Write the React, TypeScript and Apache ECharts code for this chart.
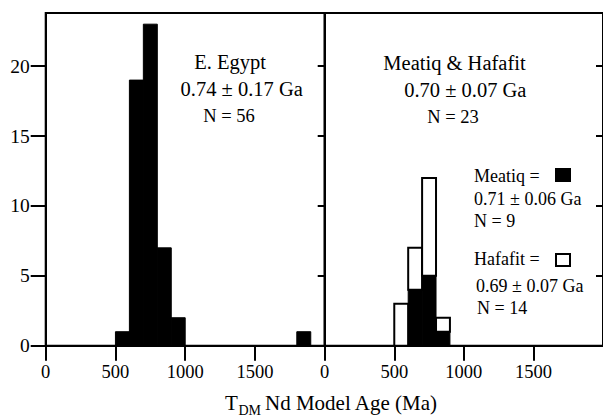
import React, { useEffect, useRef } from "react";
import * as echarts from "echarts";

// ---- data ----
const binWidth = 100;
const egyptBinStarts = [500, 600, 700, 800, 900, 1800];
const egyptCounts = [1, 19, 23, 7, 2, 1];
const meatiqBinStarts = [600, 700, 800];
const meatiqCounts = [4, 5, 1];
const hafafitBinStarts = [500, 600, 700, 800];
const hafafitCounts = [3, 3, 7, 1];
const xTickValues = [0, 500, 1000, 1500];
const yTickValues = [0, 5, 10, 15, 20];

const FONT = "Liberation Serif";

function buildBars(starts: number[], counts: number[], base?: (s: number) => number) {
  return starts.map((s, i) => {
    const b = base ? base(s) : 0;
    return [s, s + binWidth, b, b + counts[i]];
  });
}

const egyptData = buildBars(egyptBinStarts, egyptCounts);
const meatiqData = buildBars(meatiqBinStarts, meatiqCounts);
const hafafitData = buildBars(hafafitBinStarts, hafafitCounts, (s) => {
  const idx = meatiqBinStarts.indexOf(s);
  return idx >= 0 ? meatiqCounts[idx] : 0;
});

function makeRender(fill: string) {
  return (params: any, api: any) => {
    const p0 = api.coord([api.value(0), api.value(2)]);
    const p1 = api.coord([api.value(1), api.value(3)]);
    return {
      type: "rect",
      shape: { x: p0[0], y: p1[1], width: p1[0] - p0[0], height: p0[1] - p1[1] },
      style: { fill, stroke: "#000", lineWidth: fill === "#000" ? 1 : 2 },
    };
  };
}

export default function App() {
  const ref = useRef<HTMLDivElement>(null);
  useEffect(() => {
    if (!ref.current) return;
    const chart = echarts.init(ref.current, undefined, { renderer: "svg" });
    const axisLine = { show: true, lineStyle: { color: "#000", width: 2 } };
    const xAxisCommon = (gridIndex: number) => ({
      type: "value",
      gridIndex,
      min: 0,
      max: 2000,
      splitLine: { show: false },
      axisLine,
      axisTick: { show: true, length: 15, lineStyle: { color: "#000", width: 2 }, customValues: xTickValues },
      axisLabel: {
        show: true,
        color: "#000",
        fontFamily: FONT,
        fontSize: 18.5,
        margin: 17,
        customValues: xTickValues,
        formatter: (v: number) => String(v),
      },
    });
    const yCommon = {
      type: "value",
      min: 0,
      max: 23.8,
      splitLine: { show: false },
      axisLine,
    };
    const text = (t: string, x: number, y: number, size: number, align = "center") => ({
      type: "text",
      x,
      y,
      style: {
        text: t,
        fill: "#000",
        fontFamily: FONT,
        fontSize: size,
        textAlign: align,
        textVerticalAlign: "middle",
      },
    });
    chart.setOption({
      animation: false,
      grid: [
        { left: 45.7, top: 13, width: 279, height: 332.7, show: true, borderColor: "#000", borderWidth: 2, backgroundColor: "transparent" },
        { left: 324.7, top: 13, width: 279, height: 332.7, show: true, borderColor: "#000", borderWidth: 2, backgroundColor: "transparent" },
      ],
      xAxis: [xAxisCommon(0), xAxisCommon(1)],
      yAxis: [
        {
          ...yCommon,
          gridIndex: 0,
          axisTick: { show: true, length: 15, lineStyle: { color: "#000", width: 2 }, customValues: yTickValues },
          axisLabel: {
            show: true,
            color: "#000",
            fontFamily: FONT,
            fontSize: 19.5,
            margin: 16,
            customValues: yTickValues,
            formatter: (v: number) => String(v),
          },
        },
        {
          ...yCommon,
          gridIndex: 1,
          axisTick: { show: true, length: 7, lineStyle: { color: "#000", width: 2 }, customValues: yTickValues.slice(1) },
          axisLabel: { show: false },
        },
        {
          ...yCommon,
          gridIndex: 1,
          axisTick: { show: true, inside: true, length: 7, lineStyle: { color: "#000", width: 2 }, customValues: yTickValues.slice(1) },
          axisLabel: { show: false },
        },
      ],
      series: [
        {
          type: "custom",
          name: "E. Egypt",
          xAxisIndex: 0,
          yAxisIndex: 0,
          renderItem: makeRender("#000"),
          encode: { x: [0, 1], y: [2, 3] },
          data: egyptData,
        },
        {
          type: "custom",
          name: "Hafafit",
          xAxisIndex: 1,
          yAxisIndex: 1,
          renderItem: makeRender("#fff"),
          encode: { x: [0, 1], y: [2, 3] },
          data: hafafitData,
        },
        {
          type: "custom",
          name: "Meatiq",
          xAxisIndex: 1,
          yAxisIndex: 1,
          renderItem: makeRender("#000"),
          encode: { x: [0, 1], y: [2, 3] },
          data: meatiqData,
        },
      ],
      graphic: [
        text("E. Egypt", 230, 62, 20.5),
        text("0.74 ± 0.17 Ga", 241.7, 89, 20.5),
        text("N = 56", 229, 116, 18.5),
        text("Meatiq & Hafafit", 454.5, 63, 20.5),
        text("0.70 ± 0.07 Ga", 465.3, 90, 20.5),
        text("N = 23", 453, 117, 18.5),
        text("Meatiq =", 474, 176, 18, "left"),
        { type: "rect", shape: { x: 555, y: 168, width: 16, height: 14 }, style: { fill: "#000" } },
        text("0.71 ± 0.06 Ga", 474, 199, 18, "left"),
        text("N = 9", 474, 221, 18, "left"),
        text("Hafafit =", 474, 259, 18, "left"),
        { type: "rect", shape: { x: 556, y: 254, width: 14, height: 12 }, style: { fill: "#fff", stroke: "#000", lineWidth: 2 } },
        text("0.69 ± 0.07 Ga", 476, 286, 18, "left"),
        text("N = 14", 477, 308, 18, "left"),
        text("T", 225, 403, 21, "left"),
        text("DM", 238.5, 410, 14, "left"),
        text("Nd Model Age (Ma)", 265, 403, 21, "left"),
      ],
    });
    return () => chart.dispose();
  }, []);
  return <div ref={ref} style={{ position: "absolute", left: 0, top: 0, width: 603, height: 416 }} />;
}
